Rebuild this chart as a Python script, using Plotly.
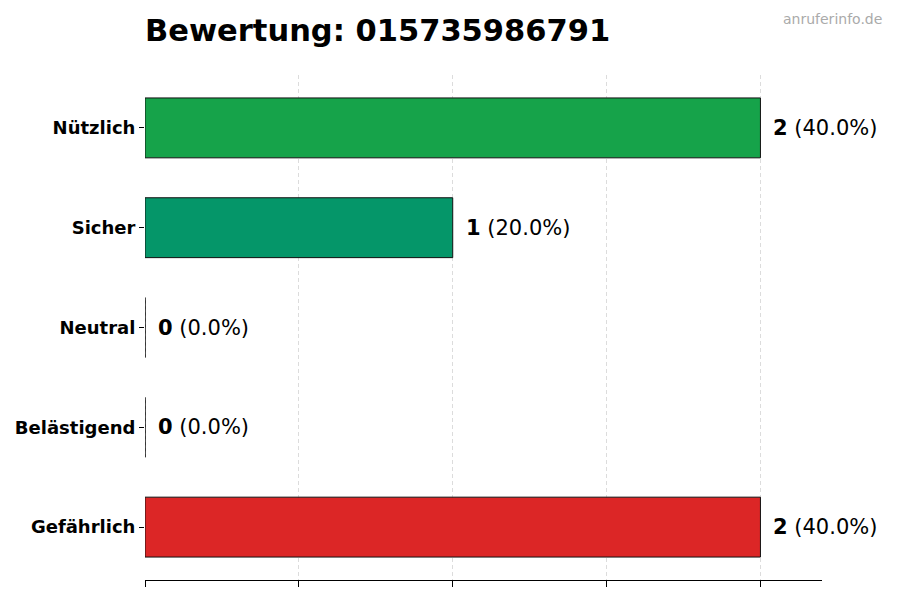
import plotly.graph_objects as go

# Daten
kategorien = ['Gefährlich', 'Belästigend', 'Neutral', 'Sicher', 'Nützlich']
anzahl = [2, 0, 0, 1, 2]
farben = ['#dc2626', '#f97316', '#6b7280', '#059669', '#16a34a']
x_ticks = [0, 0.5, 1, 1.5, 2]
nummer = '015735986791'

gesamt = sum(anzahl)
prozent = [n / gesamt * 100 for n in anzahl]

fig = go.Figure()
fig.add_trace(go.Bar(
    x=anzahl, y=kategorien, orientation='h',
    width=0.6,
    marker=dict(color=farben, line=dict(color='#111111', width=1)),
    hoverinfo='skip', showlegend=False,
))

# Werte-Beschriftung rechts neben den Balken
for kat, n, p in zip(kategorien, anzahl, prozent):
    fig.add_annotation(
        x=n, y=kat, xref='x', yref='y',
        text=f'<b>{n}</b> ({p:.1f}%)',
        showarrow=False, xanchor='left', xshift=11,
        font=dict(family='DejaVu Sans', size=21, color='black'),
    )

# Kante für leere Balken (Wert 0)
for i, n in enumerate(anzahl):
    if n == 0:
        fig.add_shape(
            type='line', xref='x', yref='y',
            x0=0, x1=0, y0=i - 0.3, y1=i + 0.3,
            line=dict(color='#222222', width=1, dash='dot'),
        )

fig.add_annotation(
    text='anruferinfo.de', xref='paper', yref='paper',
    x=1.0, y=1.0, xanchor='right', yanchor='top',
    xshift=62, yshift=66, showarrow=False,
    font=dict(family='DejaVu Sans', size=14, color='#aaaaaa'),
)

# Hinweis: die Seite hat 8px Rand, daher sind die Ränder entsprechend verschoben
fig.update_layout(
    width=900, height=600,
    margin=dict(l=137, r=86, t=67, b=28, autoexpand=False),
    plot_bgcolor='white', paper_bgcolor='white',
    font=dict(family='DejaVu Sans', color='black'),
    title=dict(
        text=f'<b>Bewertung: {nummer}</b>',
        x=137 / 900, xanchor='left', y=0.963, yanchor='middle',
        font=dict(family='DejaVu Sans', size=30.5, color='black'),
    ),
    bargap=0.4,
)

fig.update_xaxes(
    range=[0, 2.2], tickvals=x_ticks, showticklabels=False,
    ticks='outside', ticklen=6, tickcolor='black',
    showline=True, linecolor='black', linewidth=1,
    showgrid=True, gridcolor='#dcdcdc', griddash='4px,3px', gridwidth=1,
    zeroline=False, automargin=False,
)
fig.update_yaxes(
    range=[-0.53, 4.53],
    categoryorder='array', categoryarray=kategorien,
    ticks='outside', ticklen=5, tickcolor='black',
    tickfont=dict(family='DejaVu Sans', size=18, color='black', weight='bold'),
    showline=False, showgrid=False, zeroline=False, automargin=False,
)

fig.write_html('out.html')
